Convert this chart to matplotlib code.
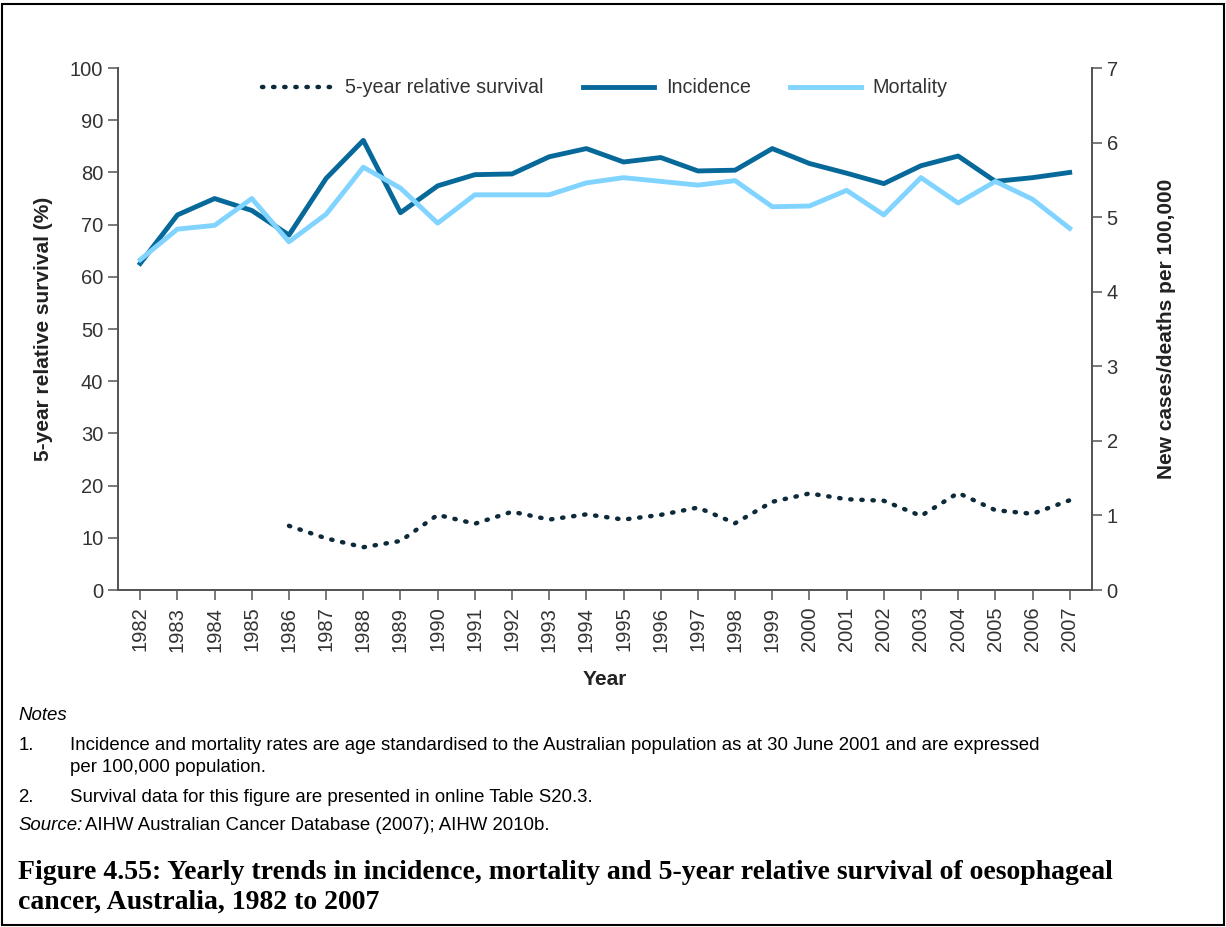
import numpy as np
import matplotlib.pyplot as plt
from matplotlib.patches import Rectangle

years = list(range(1982, 2008))
incidence = [4.38, 5.03, 5.25, 5.09, 4.76, 5.52, 6.03, 5.06, 5.42, 5.57, 5.58, 5.81, 5.92,
             5.74, 5.80, 5.62, 5.63, 5.92, 5.72, 5.59, 5.45, 5.69, 5.82, 5.48, 5.53, 5.60]
mortality = [4.43, 4.84, 4.89, 5.25, 4.67, 5.04, 5.67, 5.39, 4.92, 5.30, 5.30, 5.30, 5.46,
             5.53, 5.48, 5.43, 5.49, 5.14, 5.15, 5.36, 5.03, 5.53, 5.19, 5.48, 5.24, 4.85]
surv_years = list(range(1986, 2008))
survival = [12.3, 9.9, 8.2, 9.4, 14.4, 12.7, 15.0, 13.5, 14.5, 13.5, 14.4, 15.8, 12.8,
            16.9, 18.5, 17.4, 17.1, 14.2, 18.6, 15.3, 14.6, 17.2]

plt.rcParams['font.family'] = ['Liberation Sans', 'DejaVu Sans']

fig = plt.figure(figsize=(12.26, 9.27), dpi=100)
ax = fig.add_axes([0.0962, 0.3635, 0.7945, 0.5631])
ax2 = ax.twinx()

l1, = ax.plot(surv_years, survival, color='#0d2a3a', lw=3.2, linestyle=(0, (0.3, 2.2)),
              dash_capstyle='round', label='5-year relative survival')
l2, = ax2.plot(years, incidence, color='#06699a', lw=3.5, label='Incidence')
l3, = ax2.plot(years, mortality, color='#80d4ff', lw=3.5, label='Mortality')

ax.set_xlim(1981.4, 2007.6)
ax.set_ylim(0, 100)
ax2.set_ylim(0, 7)
ax.set_yticks(range(0, 101, 10))
ax2.set_yticks(range(0, 8))
ax.set_xticks(years)
ax.set_xticklabels([str(y) for y in years], rotation=90)

for a in (ax, ax2):
    a.spines['top'].set_visible(False)
    for s in a.spines.values():
        s.set_linewidth(1.3)
        s.set_color('#555555')
    a.tick_params(direction='out', length=7, width=1.1, labelsize=14.5, color='#555555',
                  labelcolor='#333333')
ax.tick_params(axis='x', pad=5)

ax.set_xlabel('Year', fontsize=15, fontweight='bold', labelpad=13, color='#222222')
ax.set_ylabel('5-year relative survival (%)', fontsize=15, fontweight='bold', labelpad=12,
              color='#222222')
ax2.set_ylabel('New cases/deaths per 100,000', fontsize=15, fontweight='bold', labelpad=28,
               color='#222222')

ax.legend(handles=[l1, l2, l3], loc='upper center', bbox_to_anchor=(0.5, 1.014), ncol=3,
          frameon=False, prop={'size': 14.2}, handlelength=3.6, columnspacing=2.0,
          handletextpad=0.6, labelcolor='#333333')

fs = 13.4
fig.text(0.015, 1 - 715 / 927, 'Notes', fontsize=fs, style='italic', va='center')
fig.text(0.015, 1 - 745 / 927, '1.', fontsize=fs, va='center')
fig.text(0.057, 1 - 745 / 927,
         'Incidence and mortality rates are age standardised to the Australian population as at 30 June 2001 and are expressed',
         fontsize=fs, va='center')
fig.text(0.057, 1 - 768 / 927, 'per 100,000 population.', fontsize=fs, va='center')
fig.text(0.015, 1 - 797 / 927, '2.', fontsize=fs, va='center')
fig.text(0.057, 1 - 797 / 927, 'Survival data for this figure are presented in online Table S20.3.',
         fontsize=fs, va='center')
fig.text(0.015, 1 - 826 / 927, 'Source:', fontsize=fs, style='italic', va='center')
fig.text(0.0695, 1 - 826 / 927, 'AIHW Australian Cancer Database (2007); AIHW 2010b.',
         fontsize=fs, va='center')

title = ('Figure 4.55: Yearly trends in incidence, mortality and 5-year relative survival of oesophageal\n'
         'cancer, Australia, 1982 to 2007')
fig.text(0.015, 1 - 860 / 927, title, fontsize=20, fontweight='bold',
         family=['Liberation Serif', 'DejaVu Serif'], va='top', linespacing=1.22)

fig.patches.append(Rectangle((0.002, 0.002), 0.996, 0.994, transform=fig.transFigure,
                             fill=False, edgecolor='black', lw=1.5))

fig.savefig('out.png', dpi=100)
